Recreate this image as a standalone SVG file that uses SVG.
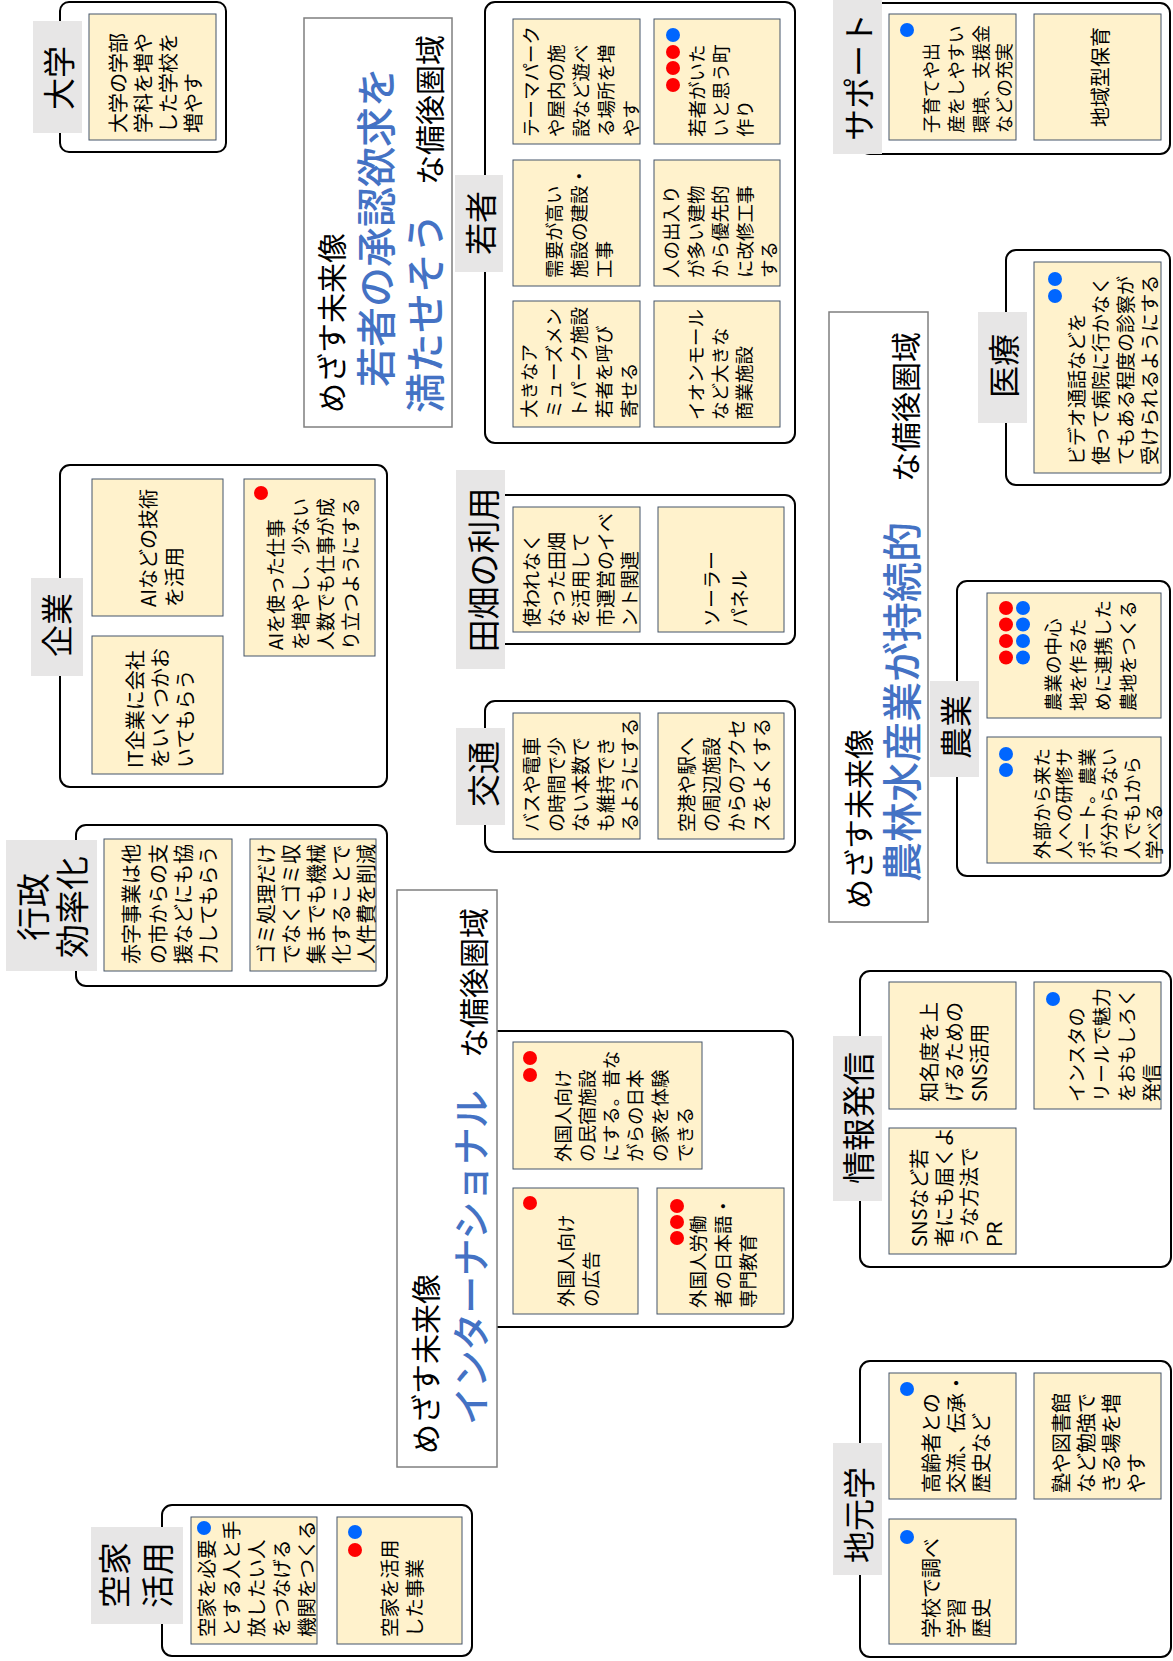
<svg xmlns="http://www.w3.org/2000/svg" width="1173" height="1661" viewBox="0 0 1173 1661">
<style>
text { font-family: "Noto Sans CJK JP", "Noto Sans", sans-serif; dominant-baseline: central; fill: #000; }
.c { font-size: 19px; }
.c20 { font-size: 20px; }
.c18 { font-size: 18.5px; }
.tab { font-size: 32px; text-anchor: middle; }
.tk { font-size: 30px; }
.tb { font-size: 40px; fill: #4472c4; font-weight: 500; }
.box { fill: #fff; stroke: #000; stroke-width: 2; }
.tabbg { fill: #e7e6e6; }
.card { fill: #fff2cc; stroke: #44546a; stroke-width: 1; }
.title { fill: #fff; stroke: #7f7f7f; stroke-width: 1.5; }
.rd { fill: #ff0000; }
.bl { fill: #0066ff; }
circle { r: 7px; }
</style>
<rect x="0" y="0" width="1173" height="1661" fill="#fff"/>

<g id="daigaku">
<rect class="box" x="60" y="2" width="166" height="150" rx="9"/>
<rect class="tabbg" x="33" y="21" width="49" height="112"/>
<text class="tab" transform="translate(57,78) rotate(-90)">大学</text>
<rect class="card" x="89" y="14" width="127" height="126"/>
<text class="c20" transform="translate(117,133) rotate(-90)"><tspan x="0" y="0">大学の学部</tspan><tspan x="0" y="25">学科を増や</tspan><tspan x="0" y="50">した学校を</tspan><tspan x="0" y="75">増やす</tspan></text>
</g>

<g id="title1">
<rect class="title" x="304" y="18" width="148" height="409"/>
<text class="tk" transform="translate(330,413) rotate(-90)">めざす未来像</text>
<text class="tb" transform="translate(374,387) rotate(-90)">若者の承認欲求を</text>
<text class="tb" transform="translate(423,413) rotate(-90)">満たせそう</text>
<text class="tk" transform="translate(428,185) rotate(-90)">な備後圏域</text>
</g>

<g id="wakamono">
<rect class="box" x="485" y="2" width="310" height="441" rx="10"/>
<rect class="tabbg" x="455" y="175" width="48" height="97"/>
<text class="tab" transform="translate(479,223) rotate(-90)">若者</text>
<rect class="card" x="513" y="19" width="127" height="125"/>
<text class="c18" transform="translate(530,137) rotate(-90)"><tspan x="0" y="0">テーマパーク</tspan><tspan x="0" y="25">や屋内の施</tspan><tspan x="0" y="50">設など遊べ</tspan><tspan x="0" y="75">る場所を増</tspan><tspan x="0" y="100">やす</tspan></text>
<rect class="card" x="654" y="19" width="126" height="125"/>
<circle class="bl" cx="673" cy="35" r="7"/>
<circle class="rd" cx="673" cy="52" r="7"/>
<circle class="rd" cx="673" cy="68" r="7"/>
<circle class="rd" cx="673" cy="85" r="7"/>
<text class="c18" transform="translate(696,137) rotate(-90)"><tspan x="0" y="0">若者がいた</tspan><tspan x="0" y="24">いと思う町</tspan><tspan x="0" y="48">作り</tspan></text>
<rect class="card" x="513" y="160" width="127" height="126"/>
<text class="c18" transform="translate(553,278) rotate(-90)"><tspan x="0" y="0">需要が高い</tspan><tspan x="0" y="25">施設の建設・</tspan><tspan x="0" y="50">工事</tspan></text>
<rect class="card" x="654" y="160" width="126" height="126"/>
<text class="c18" transform="translate(670,278) rotate(-90)"><tspan x="0" y="0">人の出入り</tspan><tspan x="0" y="24.5">が多い建物</tspan><tspan x="0" y="49">から優先的</tspan><tspan x="0" y="73.5">に改修工事</tspan><tspan x="0" y="98">する</tspan></text>
<rect class="card" x="513" y="301" width="127" height="126"/>
<text class="c18" transform="translate(528,418) rotate(-90)"><tspan x="0" y="0">大きなア</tspan><tspan x="0" y="25">ミューズメン</tspan><tspan x="0" y="50">トパーク施設</tspan><tspan x="0" y="75">若者を呼び</tspan><tspan x="0" y="100">寄せる</tspan></text>
<rect class="card" x="654" y="301" width="126" height="126"/>
<text class="c18" transform="translate(695,420) rotate(-90)"><tspan x="0" y="0">イオンモール</tspan><tspan x="0" y="24">など大きな</tspan><tspan x="0" y="48">商業施設</tspan></text>
</g>

<g id="support">
<rect class="box" x="860" y="3" width="310" height="151" rx="10"/>
<rect class="tabbg" x="833" y="0" width="49" height="154"/>
<text class="tab" transform="translate(857,77) rotate(-90)">サポート</text>
<rect class="card" x="889" y="14" width="127" height="126"/>
<circle class="bl" cx="907" cy="30" r="7"/>
<text class="c" style="font-size:18px" transform="translate(930,133) rotate(-90)"><tspan x="0" y="0">子育てや出</tspan><tspan x="0" y="25">産をしやすい</tspan><tspan x="0" y="50">環境、支援金</tspan><tspan x="0" y="73">などの充実</tspan></text>
<rect class="card" x="1034" y="14" width="127" height="126"/>
<text class="c20" transform="translate(1099,127) rotate(-90)">地域型保育</text>
</g>

<g id="iryou">
<rect class="box" x="1006" y="250" width="164" height="235" rx="10"/>
<rect class="tabbg" x="978" y="312" width="49" height="111"/>
<text class="tab" transform="translate(1002,366) rotate(-90)">医療</text>
<rect class="card" x="1034" y="262" width="127" height="211"/>
<circle class="bl" cx="1055" cy="279" r="7"/>
<circle class="bl" cx="1055" cy="296" r="7"/>
<text class="c" transform="translate(1075,465) rotate(-90)"><tspan x="0" y="0">ビデオ通話などを</tspan><tspan x="0" y="24">使って病院に行かなく</tspan><tspan x="0" y="48.5">てもある程度の診察が</tspan><tspan x="0" y="73">受けられるようにする</tspan></text>
</g>

<g id="kigyou">
<rect class="box" x="60" y="465" width="327" height="322" rx="10"/>
<rect class="tabbg" x="31" y="578" width="52" height="98"/>
<text class="tab" transform="translate(55,625) rotate(-90)">企業</text>
<rect class="card" x="92" y="479" width="131" height="137"/>
<text class="c20" transform="translate(147,607) rotate(-90)"><tspan x="0" y="0">AIなどの技術</tspan><tspan x="0" y="26">を活用</tspan></text>
<rect class="card" x="92" y="636" width="131" height="138"/>
<text class="c20" transform="translate(134,768) rotate(-90)"><tspan x="0" y="0">IT企業に会社</tspan><tspan x="0" y="25">をいくつかお</tspan><tspan x="0" y="50">いてもらう</tspan></text>
<rect class="card" x="244" y="479" width="131" height="177"/>
<circle class="rd" cx="261" cy="493" r="7"/>
<text class="c" transform="translate(274,650) rotate(-90)"><tspan x="0" y="0">AIを使った仕事</tspan><tspan x="0" y="25">を増やし、少ない</tspan><tspan x="0" y="50">人数でも仕事が成</tspan><tspan x="0" y="75">り立つようにする</tspan></text>
</g>

<g id="gyousei">
<rect class="box" x="76" y="825" width="311" height="161" rx="10"/>
<rect class="tabbg" x="6" y="840" width="91" height="131"/>
<text class="tab" style="font-size:34px" transform="translate(31,907) rotate(-90)">行政</text>
<text class="tab" style="font-size:34px" transform="translate(70,907) rotate(-90)">効率化</text>
<rect class="card" x="104" y="839" width="128" height="132"/>
<text class="c20" transform="translate(130,964) rotate(-90)"><tspan x="0" y="0">赤字事業は他</tspan><tspan x="0" y="26.5">の市からの支</tspan><tspan x="0" y="51.5">援などにも協</tspan><tspan x="0" y="76.5">力してもらう</tspan></text>
<rect class="card" x="250" y="839" width="126" height="132"/>
<text class="c20" transform="translate(265,964) rotate(-90)"><tspan x="0" y="0">ゴミ処理だけ</tspan><tspan x="0" y="25">でなくゴミ収</tspan><tspan x="0" y="50">集までも機械</tspan><tspan x="0" y="75">化することで</tspan><tspan x="0" y="100">人件費を削減</tspan></text>
</g>

<g id="tahata">
<rect class="box" x="485" y="495" width="310" height="149" rx="10"/>
<rect class="tabbg" x="456" y="470" width="49" height="199"/>
<text class="tab" style="font-size:33px" transform="translate(482,570) rotate(-90)">田畑の利用</text>
<rect class="card" x="513" y="507" width="127" height="125"/>
<text class="c" transform="translate(530,627) rotate(-90)"><tspan x="0" y="0">使われなく</tspan><tspan x="0" y="24.5">なった田畑</tspan><tspan x="0" y="49">を活用して</tspan><tspan x="0" y="74">市運営のイベ</tspan><tspan x="0" y="98">ント関連</tspan></text>
<rect class="card" x="658" y="507" width="126" height="125"/>
<text class="c" transform="translate(710,627) rotate(-90)"><tspan x="0" y="0">ソーラー</tspan><tspan x="0" y="27.5">パネル</tspan></text>
</g>

<g id="koutsuu">
<rect class="box" x="485" y="701" width="310" height="151" rx="10"/>
<rect class="tabbg" x="456" y="728" width="49" height="97"/>
<text class="tab" style="font-size:33px" transform="translate(482,774) rotate(-90)">交通</text>
<rect class="card" x="513" y="713" width="127" height="126"/>
<text class="c" transform="translate(530,832) rotate(-90)"><tspan x="0" y="0">バスや電車</tspan><tspan x="0" y="24.5">の時間で少</tspan><tspan x="0" y="49">ない本数で</tspan><tspan x="0" y="74">も維持でき</tspan><tspan x="0" y="98">るようにする</tspan></text>
<rect class="card" x="658" y="713" width="126" height="126"/>
<text class="c" transform="translate(685,832) rotate(-90)"><tspan x="0" y="0">空港や駅へ</tspan><tspan x="0" y="25">の周辺施設</tspan><tspan x="0" y="50">からのアクセ</tspan><tspan x="0" y="75">スをよくする</tspan></text>
</g>

<g id="title3">
<rect class="title" x="829" y="312" width="99" height="610"/>
<text class="tk" transform="translate(857,909) rotate(-90)">めざす未来像</text>
<text class="tb" transform="translate(900,882) rotate(-90)">農林水産業が持続的</text>
<text class="tk" transform="translate(904,482) rotate(-90)">な備後圏域</text>
</g>

<g id="nougyou">
<rect class="box" x="957" y="581" width="213" height="295" rx="10"/>
<rect class="tabbg" x="930" y="681" width="49" height="96"/>
<text class="tab" transform="translate(954,727) rotate(-90)">農業</text>
<rect class="card" x="987" y="593" width="174" height="125"/>
<circle class="rd" cx="1006" cy="608" r="7"/>
<circle class="rd" cx="1006" cy="624.5" r="7"/>
<circle class="rd" cx="1006" cy="641" r="7"/>
<circle class="rd" cx="1006" cy="657.5" r="7"/>
<circle class="bl" cx="1023" cy="608" r="7"/>
<circle class="bl" cx="1023" cy="624.5" r="7"/>
<circle class="bl" cx="1023" cy="641" r="7"/>
<circle class="bl" cx="1023" cy="657.5" r="7"/>
<text class="c18" transform="translate(1052,711) rotate(-90)"><tspan x="0" y="0">農業の中心</tspan><tspan x="0" y="25">地を作るた</tspan><tspan x="0" y="50">めに連携した</tspan><tspan x="0" y="75">農地をつくる</tspan></text>
<rect class="card" x="987" y="737" width="174" height="126"/>
<circle class="bl" cx="1006" cy="754" r="7"/>
<circle class="bl" cx="1006" cy="770" r="7"/>
<text class="c18" transform="translate(1041,859) rotate(-90)"><tspan x="0" y="0">外部から来た</tspan><tspan x="0" y="22.4">人への研修サ</tspan><tspan x="0" y="44.8">ポート。農業</tspan><tspan x="0" y="67.2">が分からない</tspan><tspan x="0" y="89.6">人でも1から</tspan><tspan x="0" y="112">学べる</tspan></text>
</g>

<g id="international">
<rect class="box" x="480" y="1031" width="313" height="296" rx="10"/>
<rect class="card" x="513" y="1042" width="189" height="127"/>
<circle class="rd" cx="530" cy="1058" r="7"/>
<circle class="rd" cx="530" cy="1075" r="7"/>
<text class="c18" transform="translate(562,1162) rotate(-90)"><tspan x="0" y="0">外国人向け</tspan><tspan x="0" y="23.5">の民宿施設</tspan><tspan x="0" y="48">にする。昔な</tspan><tspan x="0" y="71.5">がらの日本</tspan><tspan x="0" y="96.5">の家を体験</tspan><tspan x="0" y="121.5">できる</tspan></text>
<rect class="card" x="513" y="1188" width="125" height="126"/>
<circle class="rd" cx="530" cy="1203" r="7"/>
<text class="c18" transform="translate(565,1307) rotate(-90)"><tspan x="0" y="0">外国人向け</tspan><tspan x="0" y="25">の広告</tspan></text>
<rect class="card" x="657" y="1188" width="127" height="126"/>
<circle class="rd" cx="677" cy="1206" r="7"/>
<circle class="rd" cx="677" cy="1222" r="7"/>
<circle class="rd" cx="677" cy="1238" r="7"/>
<text class="c18" transform="translate(697,1308) rotate(-90)"><tspan x="0" y="0">外国人労働</tspan><tspan x="0" y="25">者の日本語・</tspan><tspan x="0" y="50">専門教育</tspan></text>
</g>

<g id="title2">
<rect class="title" x="397" y="890" width="100" height="577"/>
<text class="tk" transform="translate(424,1454) rotate(-90)">めざす未来像</text>
<text class="tb" style="font-size:38px" textLength="335" lengthAdjust="spacing" transform="translate(468,1425) rotate(-90)">インターナショナル</text>
<text class="tk" transform="translate(472,1058) rotate(-90)">な備後圏域</text>
</g>

<g id="jouhou">
<rect class="box" x="860" y="971" width="311" height="296" rx="10"/>
<rect class="tabbg" x="833" y="1036" width="49" height="165"/>
<text class="tab" style="font-size:33px" transform="translate(857,1118) rotate(-90)">情報発信</text>
<rect class="card" x="889" y="982" width="127" height="127"/>
<text class="c20" transform="translate(928,1102) rotate(-90)"><tspan x="0" y="0">知名度を上</tspan><tspan x="0" y="25">げるための</tspan><tspan x="0" y="50">SNS活用</tspan></text>
<rect class="card" x="1034" y="982" width="127" height="127"/>
<circle class="bl" cx="1053" cy="999" r="7"/>
<text class="c" transform="translate(1075,1102) rotate(-90)"><tspan x="0" y="0">インスタの</tspan><tspan x="0" y="25">リールで魅力</tspan><tspan x="0" y="50">をおもしろく</tspan><tspan x="0" y="75">発信</tspan></text>
<rect class="card" x="889" y="1128" width="127" height="126"/>
<text class="c20" transform="translate(918,1247) rotate(-90)"><tspan x="0" y="0">SNSなど若</tspan><tspan x="0" y="25">者にも届くよ</tspan><tspan x="0" y="50">うな方法で</tspan><tspan x="0" y="75">PR</tspan></text>
</g>

<g id="jimotogaku">
<rect class="box" x="860" y="1361" width="311" height="296" rx="10"/>
<rect class="tabbg" x="833" y="1443" width="49" height="132"/>
<text class="tab" transform="translate(857,1515) rotate(-90)">地元学</text>
<rect class="card" x="889" y="1373" width="127" height="126"/>
<circle class="bl" cx="907" cy="1389" r="7"/>
<text class="c20" transform="translate(930,1493) rotate(-90)"><tspan x="0" y="0">高齢者との</tspan><tspan x="0" y="25">交流、伝承・</tspan><tspan x="0" y="50">歴史など</tspan></text>
<rect class="card" x="1034" y="1373" width="127" height="126"/>
<text class="c20" transform="translate(1060,1493) rotate(-90)"><tspan x="0" y="0">塾や図書館</tspan><tspan x="0" y="25">など勉強で</tspan><tspan x="0" y="50">きる場を増</tspan><tspan x="0" y="75">やす</tspan></text>
<rect class="card" x="889" y="1519" width="127" height="125"/>
<circle class="bl" cx="907" cy="1537" r="7"/>
<text class="c20" transform="translate(930,1638) rotate(-90)"><tspan x="0" y="0">学校で調べ</tspan><tspan x="0" y="25">学習</tspan><tspan x="0" y="50">歴史</tspan></text>
</g>

<g id="akiya">
<rect class="box" x="162" y="1505" width="310" height="151" rx="10"/>
<rect class="tabbg" x="91" y="1527" width="92" height="97"/>
<text class="tab" style="font-size:33px" transform="translate(113,1575) rotate(-90)">空家</text>
<text class="tab" style="font-size:33px" transform="translate(156,1575) rotate(-90)">活用</text>
<rect class="card" x="191" y="1517" width="126" height="127"/>
<circle class="bl" cx="204" cy="1528" r="7"/>
<text class="c" style="font-size:19.5px" transform="translate(205,1637) rotate(-90)"><tspan x="0" y="0">空家を必要</tspan><tspan x="0" y="25">とする人と手</tspan><tspan x="0" y="50">放したい人</tspan><tspan x="0" y="75">をつなげる</tspan><tspan x="0" y="100">機関をつくる</tspan></text>
<rect class="card" x="337" y="1517" width="125" height="127"/>
<circle class="bl" cx="355" cy="1532" r="7"/>
<circle class="rd" cx="355" cy="1550" r="7"/>
<text class="c" style="font-size:19.5px" transform="translate(388,1637) rotate(-90)"><tspan x="0" y="0">空家を活用</tspan><tspan x="0" y="25">した事業</tspan></text>
</g>

<g id="connectors"></g>
</svg>
